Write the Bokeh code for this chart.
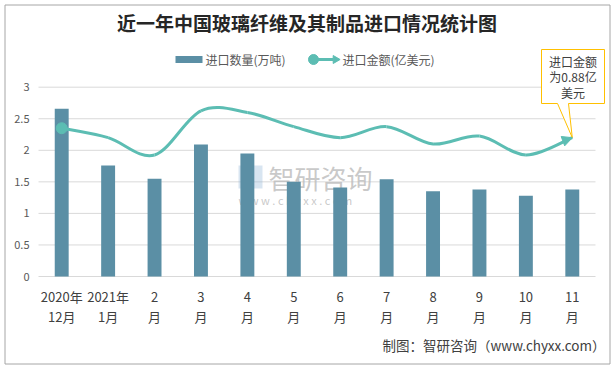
import numpy as np
from bokeh.plotting import figure
from bokeh.models import Range1d, Arrow, NormalHead
from bokeh.core.properties import value
from bokeh.embed import file_html
from bokeh.resources import INLINE

# ---------------- data ----------------
title = "近一年中国玻璃纤维及其制品进口情况统计图"
categories = ["2020年\n12月", "2021年\n1月", "2\n月", "3\n月", "4\n月", "5\n月",
              "6\n月", "7\n月", "8\n月", "9\n月", "10\n月", "11\n月"]
quantity = [2.66, 1.76, 1.55, 2.09, 1.95, 1.50, 1.41, 1.54, 1.35, 1.38, 1.28, 1.38]   # 万吨
amount = [0.94, 0.88, 0.77, 1.05, 1.04, 0.95, 0.88, 0.95, 0.84, 0.89, 0.77, 0.88]     # 亿美元
y_ticks = [0, 0.5, 1, 1.5, 2, 2.5, 3]
y_tick_labels = ["0", "0.5", "1", "1.5", "2", "2.5", "3"]
legend_labels = ["进口数量(万吨)", "进口金额(亿美元)"]
callout_lines = ["进口金额", "为0.88亿", "美元"]
footer = "制图：智研咨询（www.chyxx.com）"
AMT_SCALE = 0.4  # secondary (hidden) axis: 0-1.2 亿美元 aligned to 0-3

# ---------------- layout helpers (reference-pixel -> data) ----------------
W, H = 611, 366
PX = 557 / len(categories)      # px per category
PY = 63.1                       # px per unit on left axis
X0, Y0 = 38, 276                # ref px of left plot edge / zero line
def dx(r): return (r - X0) / PX - 0.5
def dy(r): return (Y0 - r) / PY

FONT = value("Noto Sans CJK SC")
BAR_C = "#5B8FA5"
LINE_C = "#5CBDB3"
TXT_C = "#404040"

p = figure(width=W, height=H, output_backend="svg", toolbar_location=None,
           x_range=Range1d(dx(0), dx(W)), y_range=Range1d(dy(H), dy(0)),
           x_axis_location=None, y_axis_location=None, min_border=0)
p.extra_y_ranges = {"amt": Range1d(dy(H) * AMT_SCALE, dy(0) * AMT_SCALE)}
p.xgrid.visible = False
p.ygrid.visible = False
p.outline_line_color = None
p.background_fill_color = "white"
p.border_fill_color = "white"

n = len(categories)
xs = np.arange(n)

# outer border
p.quad(left=dx(4.5), right=dx(609.5), top=dy(4.5), bottom=dy(363.5), fill_color=None,
       line_color="#A6A6A6", line_width=1)

# gridlines
p.segment(x0=-0.5, x1=n - 0.5, y0=y_ticks, y1=y_ticks, line_color="#D9D9D9", line_width=1)

# watermark
p.quad(left=dx(238), right=dx(262), top=dy(165), bottom=dy(188), fill_color="#8FB4D8",
       fill_alpha=0.35, line_color=None)
p.text(x=[dx(268)], y=[dy(177)], text=["智研咨询"], text_font=FONT, text_font_size="26px",
       text_color="#BBBBBB", text_alpha=0.8, text_baseline="middle")
p.text(x=[dx(238)], y=[dy(199)], text=["w w w . c h y x x . c o m"], text_font=FONT,
       text_font_size="11px", text_color="#BBBBBB", text_alpha=0.8, text_baseline="middle")

# bars
p.vbar(x=xs, top=quantity, width=0.30, bottom=0, fill_color=BAR_C, line_color=None)

# smoothed line (Catmull-Rom bezier through the data points)
pts = np.array(amount)
ext = np.concatenate([[pts[0]], pts, [pts[-1]]])
xe = np.concatenate([[xs[0]], xs, [xs[-1]]]).astype(float)
x0s, y0s, x1s, y1s, cx0, cy0, cx1, cy1 = [], [], [], [], [], [], [], []
for i in range(n - 1):
    a, b = i + 1, i + 2
    x0s.append(xe[a]); y0s.append(ext[a]); x1s.append(xe[b]); y1s.append(ext[b])
    cx0.append(xe[a] + (xe[b] - xe[a - 1]) / 6); cy0.append(ext[a] + (ext[b] - ext[a - 1]) / 6)
    cx1.append(xe[b] - (xe[b + 1] - xe[a]) / 6); cy1.append(ext[b] - (ext[b + 1] - ext[a]) / 6)
p.bezier(x0=x0s, y0=y0s, x1=x1s, y1=y1s, cx0=cx0, cy0=cy0, cx1=cx1, cy1=cy1,
         line_color=LINE_C, line_width=3, y_range_name="amt")
p.scatter(x=[xs[0]], y=[amount[0]], size=11, fill_color=LINE_C, line_color=LINE_C,
          y_range_name="amt")
p.add_layout(Arrow(x_start=cx1[-1], y_start=cy1[-1], x_end=xs[-1], y_end=amount[-1],
                   line_color=LINE_C, line_width=3, y_range_name="amt",
                   end=NormalHead(size=10, fill_color=LINE_C, line_color=LINE_C)))

# callout box with pointer to the last point
tip_x, tip_y = xs[-1], amount[-1] / AMT_SCALE
L, R, T, B = dx(541), dx(604), dy(49), dy(103)
p.patch(x=[L, R, R, dx(568), tip_x, dx(557), L], y=[T, T, B, B, tip_y, B, B],
        fill_color="white", line_color="#FFC000", line_width=1)
p.text(x=[(L + R) / 2] * 3, y=[dy(61), dy(76), dy(92)], text=callout_lines, text_font=FONT,
       text_font_size="12px", text_color=TXT_C, text_align="center", text_baseline="middle")

# y tick labels
p.text(x=[dx(29)] * len(y_ticks), y=y_ticks, text=y_tick_labels, text_font=FONT,
       text_font_size="11px", text_color="#595959", text_align="right", text_baseline="middle")

# x tick labels (two lines)
l1 = [c.split("\n")[0] for c in categories]
l2 = [c.split("\n")[1] for c in categories]
p.text(x=xs, y=[dy(296)] * n, text=l1, text_font=FONT, text_font_size="13px",
       text_color=TXT_C, text_align="center", text_baseline="middle")
p.text(x=xs, y=[dy(316)] * n, text=l2, text_font=FONT, text_font_size="13px",
       text_color=TXT_C, text_align="center", text_baseline="middle")

# title
p.text(x=[dx(306.5)], y=[dy(22)], text=[title], text_font=FONT, text_font_size="19px",
       text_font_style="bold", text_color="#262626", text_align="center", text_baseline="middle")

# legend
ly = dy(59)
p.quad(left=dx(175), right=dx(202), top=dy(55.5), bottom=dy(62.5), fill_color=BAR_C, line_color=None)
p.text(x=[dx(205)], y=[ly], text=[legend_labels[0]], text_font=FONT, text_font_size="12px",
       text_color="#595959", text_baseline="middle")
p.segment(x0=[dx(312)], x1=[dx(333)], y0=[ly], y1=[ly], line_color=LINE_C, line_width=3)
p.scatter(x=[dx(313)], y=[ly], size=10, fill_color=LINE_C, line_color=LINE_C)
p.scatter(x=[dx(335)], y=[ly], size=8, marker="triangle", angle=-np.pi / 2,
          fill_color=LINE_C, line_color=LINE_C)
p.text(x=[dx(342)], y=[ly], text=[legend_labels[1]], text_font=FONT, text_font_size="12px",
       text_color="#595959", text_baseline="middle")

# footer
p.text(x=[dx(605)], y=[dy(344)], text=[footer], text_font=FONT, text_font_size="13.5px",
       text_color=TXT_C, text_align="right", text_baseline="middle")

open("out.html", "w").write(file_html(p, INLINE))
